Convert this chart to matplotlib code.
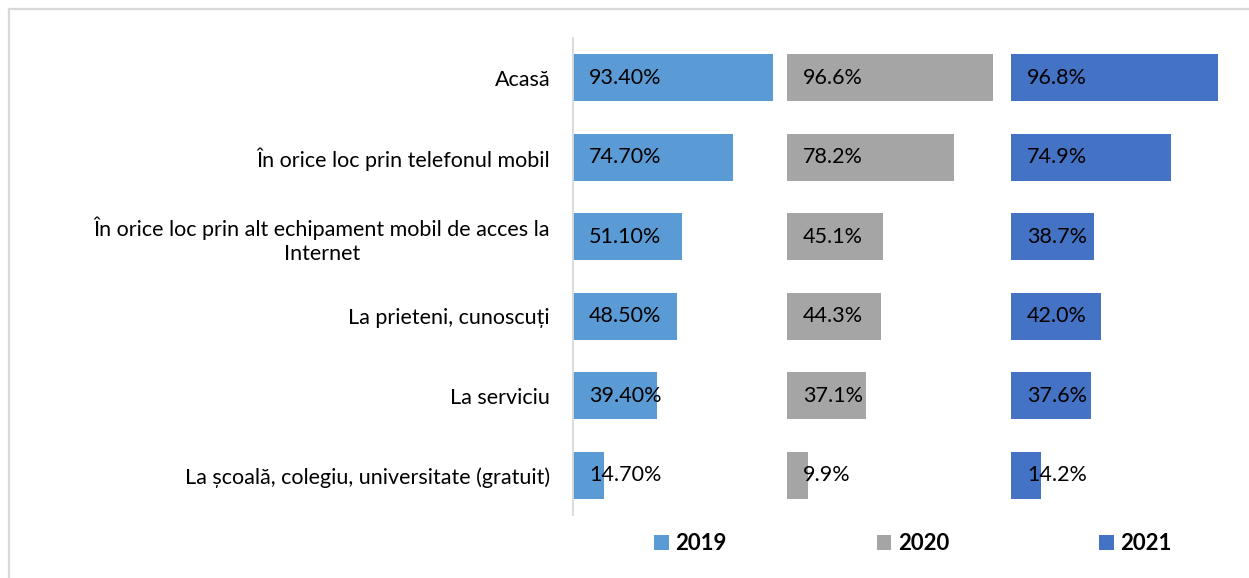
import matplotlib
matplotlib.use("Agg")
import matplotlib.pyplot as plt
from matplotlib.patches import Patch
from matplotlib.lines import Line2D

plt.rcParams.update({
    "font.family": ["Lato", "DejaVu Sans"], "font.size": 15,
})

categories = [
    "Acasă",
    "În orice loc prin telefonul mobil",
    "În orice loc prin alt echipament mobil de acces la\nInternet",
    "La prieteni, cunoscuți",
    "La serviciu",
    "La școală, colegiu, universitate (gratuit)",
]
years = ["2019", "2020", "2021"]
v2019 = [93.4, 74.7, 51.1, 48.5, 39.4, 14.7]
v2020 = [96.6, 78.2, 45.1, 44.3, 37.1, 9.9]
v2021 = [96.8, 74.9, 38.7, 42.0, 37.6, 14.2]
label_fmt = ["{:.2f}%", "{:.1f}%", "{:.1f}%"]

colors = ["#5B9BD5", "#A5A5A5", "#4472C4"]
offsets = [0, 100, 205]   # panel starts, same 0-100% scale each

W, H = 1249, 578
fig = plt.figure(figsize=(W / 100, H / 100), dpi=100)
ax = fig.add_axes([573 / W, 63 / H, 665 / W, 477 / H])

ypos = list(range(len(categories)))
for series, off, col, fmt in zip([v2019, v2020, v2021], offsets, colors, label_fmt):
    ax.barh(ypos, series, left=off, height=0.585, color=col)
    for y, v in zip(ypos, series):
        ax.text(off + 7.5, y, fmt.format(v), va="center", ha="left",
                fontsize=15.5, color="black")

ax.set_ylim(len(categories) - 0.5, -0.5)
ax.set_xlim(0, 665 / 2.137)
ax.set_yticks(ypos)
ax.set_yticklabels(categories, fontsize=15.5)
for lbl in ax.get_yticklabels():
    lbl.set_multialignment("center")
ax.tick_params(axis="y", length=0, pad=16.5)
ax.set_xticks([])
for s in ["top", "right", "bottom"]:
    ax.spines[s].set_visible(False)
ax.spines["left"].set_color("#d9d9d9")
ax.spines["left"].set_linewidth(1.3)

handles = [Patch(facecolor=c, edgecolor="none") for c in colors]
leg = fig.legend(handles, years, loc="center", ncol=3, frameon=False,
                 bbox_to_anchor=(913 / W, 34 / H), handlelength=0.66,
                 handleheight=0.66, handletextpad=0.3, columnspacing=6.75,
                 prop={"weight": "bold", "size": 16})

# outer chart frame (left and top edges visible)
fig.add_artist(Line2D([8.5 / W, 8.5 / W], [0, 1 - 8.5 / H], transform=fig.transFigure,
                      color="#d9d9d9", lw=1.6))
fig.add_artist(Line2D([8.5 / W, 1], [1 - 8.5 / H, 1 - 8.5 / H], transform=fig.transFigure,
                      color="#d9d9d9", lw=1.6))

fig.savefig("out.png", dpi=100)
